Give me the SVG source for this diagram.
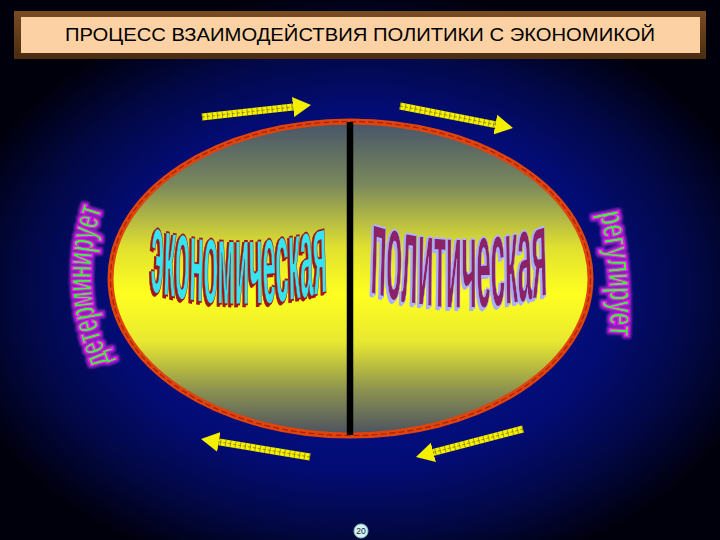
<svg xmlns="http://www.w3.org/2000/svg" xmlns:xlink="http://www.w3.org/1999/xlink" width="720" height="540" viewBox="0 0 720 540">
  <defs>
    <radialGradient id="bg" gradientUnits="userSpaceOnUse" cx="360" cy="290" r="300" gradientTransform="translate(360 290) scale(1.4 1) translate(-360 -290)">
      <stop offset="0" stop-color="#0818a0"/>
      <stop offset="0.6" stop-color="#030c74"/>
      <stop offset="0.8" stop-color="#020846"/>
      <stop offset="1" stop-color="#00000c"/>
    </radialGradient>
    <linearGradient id="ellFill" x1="0" y1="0" x2="0" y2="1">
      <stop offset="0" stop-color="#46546a"/>
      <stop offset="0.2" stop-color="#7a885c"/>
      <stop offset="0.4" stop-color="#e0e030"/>
      <stop offset="0.55" stop-color="#ffff20"/>
      <stop offset="0.7" stop-color="#e8e830"/>
      <stop offset="0.86" stop-color="#8a9050"/>
      <stop offset="1" stop-color="#4a5060"/>
    </linearGradient>
    <linearGradient id="titleBorder" x1="0" y1="0" x2="0" y2="1">
      <stop offset="0" stop-color="#7a4c22"/>
      <stop offset="1" stop-color="#4a2c10"/>
    </linearGradient>
    <filter id="shadowRed" x="-10%" y="-10%" width="120%" height="130%">
      <feOffset in="SourceAlpha" dx="-2.5" dy="1.5" result="off"/>
      <feFlood flood-color="#a01818"/>
      <feComposite in2="off" operator="in" result="sh"/>
      <feMerge><feMergeNode in="sh"/><feMergeNode in="SourceGraphic"/></feMerge>
    </filter>
    <filter id="shadowBlue" x="-10%" y="-10%" width="120%" height="130%">
      <feOffset in="SourceAlpha" dx="-2.5" dy="1.5" result="off"/>
      <feFlood flood-color="#a8acff"/>
      <feComposite in2="off" operator="in" result="sh"/>
      <feMerge><feMergeNode in="sh"/><feMergeNode in="SourceGraphic"/></feMerge>
    </filter>
    <filter id="glow" x="-30%" y="-10%" width="160%" height="120%">
      <feMorphology in="SourceAlpha" operator="dilate" radius="2" result="d"/>
      <feGaussianBlur in="d" stdDeviation="1" result="b"/>
      <feFlood flood-color="#ff30ff" flood-opacity="0.55"/>
      <feComposite in2="b" operator="in" result="g"/>
      <feMerge><feMergeNode in="g"/><feMergeNode in="SourceGraphic"/></feMerge>
    </filter>
    <marker id="head" markerUnits="userSpaceOnUse" viewBox="0 0 18 20" markerWidth="18" markerHeight="20" refX="0" refY="10" orient="auto">
      <path d="M0,0 L18,10 L0,20 z" fill="#f4f000"/>
    </marker>
    <path id="pl" d="M101,366 Q66,285 93,205"/>
    <path id="pr" d="M609,211 Q623,275 619,338"/>
    <path id="pe" d="M150,97 Q240,106 330,97"/>
    <path id="pp" d="M370,89.6 Q459,98.5 548,90.2"/>
    <style>
      .shaft { fill: none; stroke: #f4f000; stroke-width: 7; }
      .stripe { fill: none; stroke: #6a5800; stroke-width: 7; stroke-dasharray: 1 4; opacity: 0.55; }
      .mid { fill: none; stroke: #6a5800; stroke-width: 1; stroke-dasharray: 3 2; opacity: 0.6; }
      .side { font-family: "Liberation Sans", Arial, sans-serif; font-weight: bold; font-size: 36px; fill: #33ff33; stroke: #ff10ff; stroke-width: 1.6; }
      .big { font-family: "Liberation Sans", Arial, sans-serif; font-weight: bold; font-size: 40px; }
    </style>
  </defs>

  <rect x="0" y="0" width="720" height="540" fill="url(#bg)"/>

  <g id="title">
    <rect x="14" y="11" width="692" height="48" fill="url(#titleBorder)"/>
    <rect x="21" y="17" width="679" height="36" fill="#fcd2a4"/>
    <text x="360" y="41" text-anchor="middle" textLength="590" lengthAdjust="spacingAndGlyphs" font-family="Liberation Sans, Arial, sans-serif" font-size="19" fill="#000000">ПРОЦЕСС ВЗАИМОДЕЙСТВИЯ ПОЛИТИКИ С ЭКОНОМИКОЙ</text>
  </g>

  <g id="ellipse">
    <ellipse cx="350.5" cy="278.5" rx="240" ry="157" fill="url(#ellFill)" stroke="#e0440e" stroke-width="6"/>
    <ellipse cx="350.5" cy="278.5" rx="240" ry="157" fill="none" stroke="#a82000" stroke-width="1.2" stroke-dasharray="6 3"/>
    <line x1="350" y1="122" x2="350" y2="435" stroke="#000000" stroke-width="6.5"/>
  </g>

  <g id="economic" filter="url(#shadowRed)">
    <g transform="scale(1 3)">
      <text class="big" fill="#34e4f0" stroke="#a01818" stroke-width="0.6"><textPath xlink:href="#pe" textLength="178" lengthAdjust="spacingAndGlyphs">экономическая</textPath></text>
    </g>
  </g>

  <g id="political" filter="url(#shadowBlue)">
    <g transform="scale(1 3.27)">
      <text class="big" fill="#8b2468" stroke="#b0b4ff" stroke-width="0.6"><textPath xlink:href="#pp" textLength="178" lengthAdjust="spacingAndGlyphs">политическая</textPath></text>
    </g>
  </g>

  <g id="label-left" filter="url(#glow)">
    <text class="side" dominant-baseline="middle"><textPath xlink:href="#pl" textLength="164" lengthAdjust="spacingAndGlyphs">детерминирует</textPath></text>
  </g>

  <g id="label-right" filter="url(#glow)">
    <text class="side" dominant-baseline="middle"><textPath xlink:href="#pr" textLength="126" lengthAdjust="spacingAndGlyphs">регулирует</textPath></text>
  </g>

  <g id="connectors">
    <g id="arrow-top-left">
      <line class="shaft" x1="202" y1="117" x2="293.1" y2="107" marker-end="url(#head)"/>
      <line class="stripe" x1="202" y1="117" x2="293.1" y2="107"/>
      <line class="mid" x1="202" y1="117" x2="293.1" y2="107"/>
    </g>
    <g id="arrow-top-right">
      <line class="shaft" x1="400" y1="106" x2="495.3" y2="124.6" marker-end="url(#head)"/>
      <line class="stripe" x1="400" y1="106" x2="495.3" y2="124.6"/>
      <line class="mid" x1="400" y1="106" x2="495.3" y2="124.6"/>
    </g>
    <g id="arrow-bottom-left">
      <line class="shaft" x1="310" y1="457" x2="218.8" y2="441.9" marker-end="url(#head)"/>
      <line class="stripe" x1="310" y1="457" x2="218.8" y2="441.9"/>
      <line class="mid" x1="310" y1="457" x2="218.8" y2="441.9"/>
    </g>
    <g id="arrow-bottom-right">
      <line class="shaft" x1="523" y1="429" x2="433.4" y2="452.4" marker-end="url(#head)"/>
      <line class="stripe" x1="523" y1="429" x2="433.4" y2="452.4"/>
      <line class="mid" x1="523" y1="429" x2="433.4" y2="452.4"/>
    </g>
  </g>

  <g id="page-number">
    <circle cx="361" cy="531" r="7" fill="#d8f0f0" stroke="#80c8c8" stroke-width="1"/>
    <text x="361" y="534" text-anchor="middle" font-family="Liberation Sans, Arial, sans-serif" font-size="8.5" fill="#0a2040">20</text>
  </g>
</svg>
